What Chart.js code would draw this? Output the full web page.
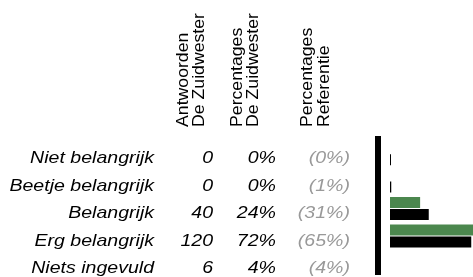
<!DOCTYPE html>
<html>
<head>
<meta charset="utf-8">
<script src="https://cdn.jsdelivr.net/npm/chart.js@4/dist/chart.umd.min.js"></script>
<style>
  html, body { margin: 0; padding: 0; background: #fff; }
  #wrap { width: 473px; height: 277px; position: relative; }
</style>
</head>
<body>
<div id="wrap"><canvas id="c" width="473" height="277"></canvas></div>
<script>
// ---- data ----
const categories = ['Niet belangrijk', 'Beetje belangrijk', 'Belangrijk', 'Erg belangrijk', 'Niets ingevuld'];
const counts = ['0', '0', '40', '120', '6'];
const pctLabels = ['0%', '0%', '24%', '72%', '4%'];
const refLabels = ['(0%)', '(1%)', '(31%)', '(65%)', '(4%)'];
const zuidwesterValues = [0, 0, 24.1, 72.3, null];
const referentieValues = [0.8, 1, 31, 65, null];
const headers = [
  ['Antwoorden', 'De Zuidwester'],
  ['Percentages', 'De Zuidwester'],
  ['Percentages', 'Referentie']
];

// ---- styles ----
const FONT = 'Liberation Sans, Arial, sans-serif';
const BODY_SX = 1.15;
const HEAD_SX = 1.04;

function stretchText(ctx, text, x, y, opts) {
  ctx.save();
  ctx.translate(x, y);
  if (opts.rot) ctx.rotate(opts.rot);
  ctx.scale(opts.sx, 1);
  ctx.font = opts.font;
  ctx.fillStyle = opts.color;
  ctx.textAlign = opts.align;
  ctx.textBaseline = 'alphabetic';
  ctx.fillText(text, 0, 0);
  ctx.restore();
}

const tablePlugin = {
  id: 'tablePlugin',
  afterDraw(chart) {
    const ctx = chart.ctx;
    const area = chart.chartArea;
    const yScale = chart.scales.y;
    // thick vertical axis line
    ctx.save();
    ctx.fillStyle = '#000';
    ctx.fillRect(area.left, area.top - 4, 6, area.bottom - area.top + 2);
    ctx.restore();

    const italic = 'italic 17px ' + FONT;
    const cols = [
      { data: categories, x: 154, color: '#000' },
      { data: counts, x: 213, color: '#000' },
      { data: pctLabels, x: 276, color: '#000' },
      { data: refLabels, x: 350, color: '#999999' }
    ];
    cols.forEach(col => {
      col.data.forEach((t, i) => {
        const y = yScale.getPixelForValue(i) + 9.6;
        stretchText(ctx, t, col.x, y, { sx: BODY_SX, font: italic, color: col.color, align: 'right' });
      });
    });

    // rotated headers
    const headX = [[188, 203.5], [241.5, 258], [311.5, 328.5]];
    headers.forEach((lines, c) => {
      lines.forEach((t, j) => {
        stretchText(ctx, t, headX[c][j], 127, { sx: HEAD_SX, font: '17px ' + FONT, color: '#000', align: 'left', rot: -Math.PI / 2 });
      });
    });
  }
};

new Chart(document.getElementById('c'), {
  type: 'bar',
  data: {
    labels: categories,
    datasets: [
      { label: 'De Zuidwester', data: zuidwesterValues, backgroundColor: '#4b874e', borderWidth: 0,
        categoryPercentage: 0.876, barPercentage: 0.92 },
      { label: 'Referentie', data: referentieValues, backgroundColor: '#000000', borderWidth: 0,
        categoryPercentage: 0.876, barPercentage: 0.92 }
    ]
  },
  options: {
    indexAxis: 'y',
    responsive: false,
    animation: false,
    devicePixelRatio: 1,
    layout: { padding: { left: 375, top: 140, right: 0, bottom: 0 } },
    plugins: { legend: { display: false }, tooltip: { enabled: false } },
    scales: {
      x: { display: false, min: -12, max: 66.4 },
      y: { display: false }
    }
  },
  plugins: [tablePlugin]
});
</script>
</body>
</html>
